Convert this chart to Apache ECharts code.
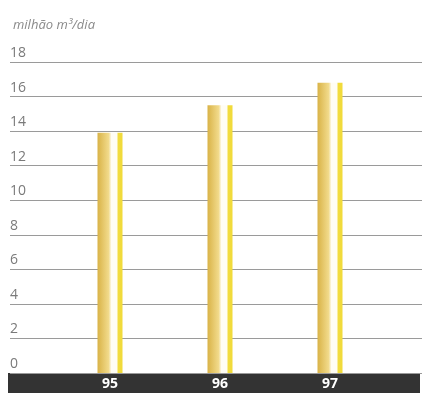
<!DOCTYPE html>
<html>
<head>
<meta charset="utf-8">
<script src="https://cdn.jsdelivr.net/npm/echarts@6/dist/echarts.min.js"></script>
<style>
  html, body { margin: 0; padding: 0; background: #fff; }
  #main { width: 422px; height: 393px; }
</style>
</head>
<body>
<div id="main"></div>
<script>
// dados
let anos = ['95', '96', '97'],
    valores = [13.9, 15.5, 16.8],
    unidade = 'milhão m³/dia';

let myChart = echarts.init(document.getElementById('main'));

// gradiente horizontal das barras (dourado, branco, risca amarela)
let barColor = new echarts.graphic.LinearGradient(0, 0, 1, 0, [
    { offset: 0, color: '#d9b347' },
    { offset: 0.45, color: '#f2db8c' },
    { offset: 0.56, color: '#fffdf4' },
    { offset: 0.78, color: '#fffdf4' },
    { offset: 0.82, color: '#f2dc3e' },
    { offset: 1, color: '#f0da3a' }
]);

myChart.setOption({
    animation: false,
    title: {
        text: unidade,
        left: 8,
        top: 14,
        textStyle: {
            fontFamily: 'Open Sans',
            fontStyle: 'italic',
            fontWeight: 'normal',
            fontSize: 13,
            color: '#8a8a8a'
        }
    },
    graphic: [{
        type: 'rect',
        shape: { x: 8, y: 373, width: 412, height: 20 },
        style: { fill: '#333333' },
        z: 0
    }],
    grid: [
        { left: 10, right: 0, top: 62, bottom: 20 },
        { left: 55, right: 37, top: 62, bottom: 20 }
    ],
    xAxis: [
        { gridIndex: 0, type: 'value', show: false, min: 0, max: 1 },
        {
            gridIndex: 1,
            type: 'category',
            data: anos,
            axisLine: { show: false },
            axisTick: { show: false },
            axisLabel: {
                margin: 4,
                color: '#ffffff',
                fontFamily: 'Open Sans',
                fontWeight: 'bold',
                fontSize: 14
            }
        }
    ],
    yAxis: [
        {
            gridIndex: 0,
            type: 'value',
            min: 0,
            max: 18,
            interval: 2,
            axisLine: { show: false },
            axisTick: { show: false },
            axisLabel: {
                inside: true,
                margin: 0,
                align: 'left',
                verticalAlign: 'bottom',
                padding: [0, 0, 2, 0],
                color: '#7a7a7a',
                fontFamily: 'Open Sans',
                fontSize: 14
            },
            splitLine: { lineStyle: { color: '#9a9a9a', width: 1 } }
        },
        { gridIndex: 1, type: 'value', min: 0, max: 18, interval: 2, show: false }
    ],
    series: [{
        type: 'bar',
        xAxisIndex: 1,
        yAxisIndex: 1,
        barWidth: 25,
        data: valores,
        itemStyle: { color: barColor },
        z: 3
    }]
});
</script>
</body>
</html>
